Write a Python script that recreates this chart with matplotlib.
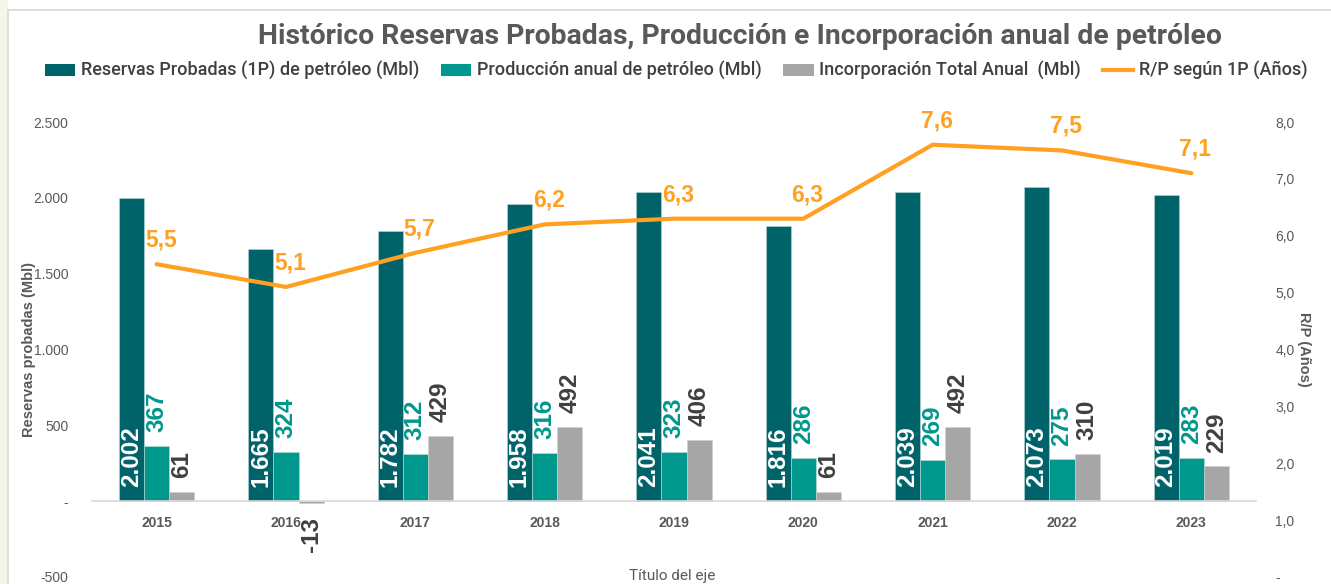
import matplotlib
matplotlib.use("Agg")
import matplotlib.pyplot as plt
import numpy as np
from matplotlib.patches import Patch, Rectangle
from matplotlib.lines import Line2D

years = ["2015", "2016", "2017", "2018", "2019", "2020", "2021", "2022", "2023"]
reservas = [2002, 1665, 1782, 1958, 2041, 1816, 2039, 2073, 2019]
produccion = [367, 324, 312, 316, 323, 286, 269, 275, 283]
incorporacion = [61, -13, 429, 492, 406, 61, 492, 310, 229]
rp = [5.5, 5.1, 5.7, 6.2, 6.3, 6.3, 7.6, 7.5, 7.1]

left_ticks = [-500, 0, 500, 1000, 1500, 2000, 2500]
right_ticks = [0, 1, 2, 3, 4, 5, 6, 7, 8]

C_DARK = "#01636A"
C_TEAL = "#00978C"
C_GRAY = "#A6A6A6"
C_ORANGE = "#FFA020"
C_TXT = "#595959"
C_LAB = "#404040"

plt.rcParams['font.family'] = ['Liberation Sans', 'DejaVu Sans']

W, H = 1331, 584
fig = plt.figure(figsize=(W / 100, H / 100), dpi=100)

# background frame
fig.patches.append(Rectangle((0, 0), 8 / W, 1, transform=fig.transFigure,
                             facecolor="#F3F7E8", edgecolor="none", zorder=-5))
fig.patches.append(Rectangle((8 / W, -0.01), 1, 1 - 10 / H + 0.01, transform=fig.transFigure,
                             facecolor="white", edgecolor="#D9D9D9", lw=1.2, zorder=-5))

ax = fig.add_axes([92 / W, 1 - 577 / H, (1256 - 92) / W, (577 - 122) / H])
ax.set_facecolor("none")
x = np.arange(len(years))
bw = 0.195

b1 = ax.bar(x - bw, reservas, bw, color=C_DARK, edgecolor="#B8D8DA", linewidth=0.4, zorder=2)
b2 = ax.bar(x, produccion, bw, color=C_TEAL, edgecolor="#B8E0DC", linewidth=0.4, zorder=2)
b3 = ax.bar(x + bw, incorporacion, bw, color=C_GRAY, edgecolor="#D0D0D0", linewidth=0.4, zorder=2)

ax.set_xlim(-0.5, len(years) - 0.5)
ax.set_ylim(-500, 2500)
ax.set_yticks(left_ticks)
ax.set_yticklabels(["-500", "-", "500", "1.000", "1.500", "2.000", "2.500"])
ax.set_xticks(x)
ax.set_xticklabels(years)
for s in ["top", "right", "left"]:
    ax.spines[s].set_visible(False)
ax.spines["bottom"].set_position(("data", 0))
ax.spines["bottom"].set_color("#D9D9D9")
ax.spines["bottom"].set_linewidth(1.2)
ax.tick_params(axis="x", length=0, pad=11, labelsize=10, labelcolor=C_TXT)
ax.tick_params(axis="y", length=0, pad=17, labelsize=10, labelcolor=C_TXT)
for lbl in ax.get_xticklabels():
    lbl.set_fontweight("bold")
ax.set_ylabel("Reservas probadas (Mbl)", fontsize=10.5, fontweight="bold", color=C_TXT)
ax.yaxis.set_label_coords(-56 / (1256 - 92), 0.5)

lab_fs = 17.5
for i in range(len(years)):
    ax.annotate(f"{reservas[i]:,}".replace(",", "."), (x[i] - bw, 0), xytext=(0, 10),
                textcoords="offset points", rotation=90, ha="center", va="bottom",
                color="white", fontsize=lab_fs, fontweight="bold", zorder=5)
    ax.annotate(f"{produccion[i]}", (x[i], produccion[i]), xytext=(0, 10),
                textcoords="offset points", rotation=90, ha="center", va="bottom",
                color=C_TEAL, fontsize=lab_fs, fontweight="bold", zorder=5)
    v = incorporacion[i]
    ax.annotate(f"{v}", (x[i] + bw, v), xytext=(0, 10 if v >= 0 else -10),
                textcoords="offset points", rotation=90, ha="center",
                va="bottom" if v >= 0 else "top",
                color=C_LAB, fontsize=lab_fs, fontweight="bold", zorder=5)

ax2 = ax.twinx()
ax2.set_ylim(0, 8)
ax2.set_yticks(right_ticks)
ax2.set_yticklabels(["-"] + [f"{t},0" for t in right_ticks[1:]])
for s in ["top", "right", "left", "bottom"]:
    ax2.spines[s].set_visible(False)
ax2.tick_params(axis="y", length=0, pad=14, labelsize=10, labelcolor=C_TXT)
ax2.plot(x, rp, color=C_ORANGE, lw=3, solid_capstyle="round", zorder=3)
for i in range(len(years)):
    ax2.annotate(f"{rp[i]}".replace(".", ","), (x[i], rp[i]), xytext=(3, 9),
                 textcoords="offset points", ha="center", va="bottom",
                 color=C_ORANGE, fontsize=16.5, fontweight="bold")
ax2.set_ylabel("R/P (Años)", fontsize=10.5, fontweight="bold", color=C_TXT, rotation=270,
               va="center")
ax2.yaxis.set_label_coords(1 + 48 / (1256 - 92), 0.5)

fig.text(672 / W, 1 - 576 / H, "Título del eje", ha="center", va="center",
         fontsize=11, color=C_TXT, family=["Roboto", "DejaVu Sans"])

fig.text(740 / W, 1 - 37 / H, "Histórico Reservas Probadas, Producción e Incorporación anual de petróleo",
         ha="center", va="center", fontsize=20.4, fontweight="bold", color=C_TXT,
         family=["Roboto", "DejaVu Sans"])

handles = [Patch(facecolor=C_DARK, edgecolor="none"),
           Patch(facecolor=C_TEAL, edgecolor="none"),
           Patch(facecolor=C_GRAY, edgecolor="none"),
           Line2D([0], [0], color=C_ORANGE, lw=3)]
labels = ["Reservas Probadas (1P) de petróleo (Mbl)", "Producción anual de petróleo (Mbl)",
          "Incorporación Total Anual  (Mbl)", "R/P según 1P (Años)"]
fig.legend(handles, labels, loc="center", bbox_to_anchor=(676 / W, 1 - 71 / H), ncol=4,
           frameon=False, prop={"family": ["Roboto", "DejaVu Sans"], "size": 13.0, "weight": "medium"},
           labelcolor=C_LAB, handlelength=1.7, handleheight=0.6, handletextpad=0.3,
           columnspacing=1.2)

fig.savefig("out.png", dpi=100)
